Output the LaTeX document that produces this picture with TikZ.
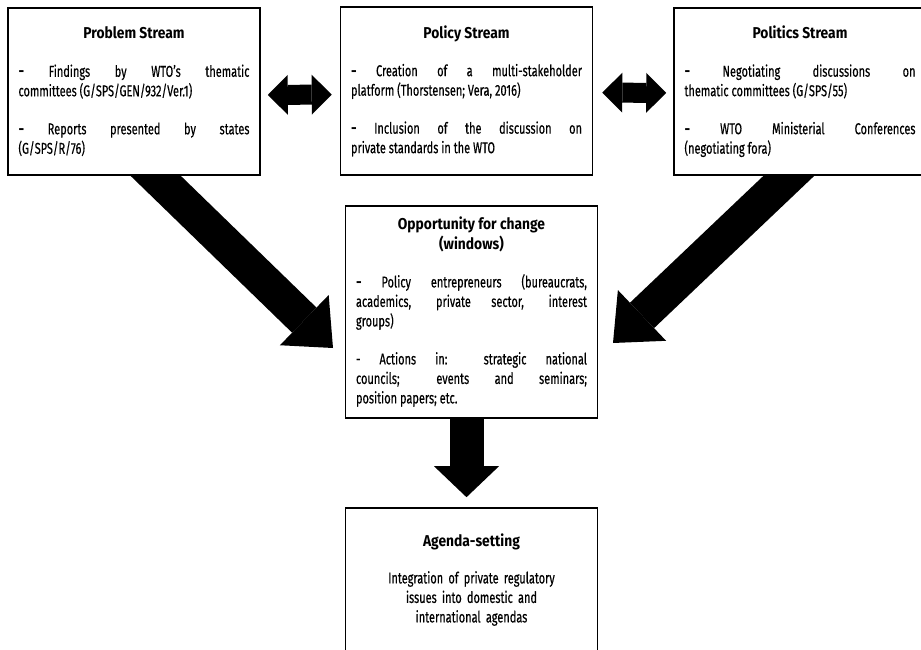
\documentclass[tikz,border=0pt]{standalone}
\usepackage{fontspec}
\setmainfont{Fira Sans}[UprightFeatures={FakeStretch=0.70, FakeBold=0.35}, BoldFeatures={FakeStretch=0.88}]
\usetikzlibrary{arrows.meta}
\usetikzlibrary{backgrounds}

\tikzset{
	streambox/.style={draw, line width=1.6pt, fill=white, text width=231pt, inner xsep=10.5pt, align=justify, font=\fontsize{15.7}{19.5}\selectfont},
	bigarrow/.style={line width=35pt, -{Triangle[length=40pt, width=70pt, line width=0pt]}},
	downarrow/.style={line width=34pt, -{Triangle[length=31pt, width=65pt, line width=0pt]}},
	bothways/.style={line width=20pt, {Triangle[length=20pt, width=40pt, line width=0pt]}-{Triangle[length=20pt, width=40pt, line width=0pt]}},
}
\newcommand{\boxtitle}[1]{{\centering\bfseries #1\par}\vspace{18.5pt}}
\newcommand{\itemgap}{\par\vspace{18.5pt}}

\begin{document}
\begin{tikzpicture}[x=1pt, y=-1pt]

	\useasboundingbox (0,0) rectangle (921,650);

	\node[streambox, minimum height=167pt] (problem) at (134,91.5) {\boxtitle{Problem Stream}
		\textbf{-} Findings by WTO’s thematic\linebreak committees (G/SPS/GEN/932/Ver.1)\itemgap
		\textbf{-} Reports presented by states\linebreak (G/SPS/R/76)};

	\node[streambox, minimum height=168pt] (policy) at (466.5,91) {\boxtitle{Policy Stream}
		\textbf{-} Creation of a multi-stakeholder\linebreak platform (Thorstensen; Vera, 2016)\itemgap
		\textbf{-} Inclusion of the discussion on\linebreak private standards in the WTO};

	\node[streambox, minimum height=167pt] (politics) at (800,91.5) {\boxtitle{Politics Stream}
		\textbf{-} Negotiating discussions on\linebreak thematic committees (G/SPS/55)\itemgap
		\textbf{-} WTO Ministerial Conferences\linebreak (negotiating fora)};

	\node[streambox, minimum height=212pt] (window) at (471.5,312) {\boxtitle{Opportunity for change\\(windows)}
		\textbf{-} Policy entrepreneurs (bureaucrats,\linebreak academics, private sector, interest\linebreak groups)\itemgap
		- Actions in: strategic national\linebreak councils; events and seminars;\linebreak position papers; etc.};

	\node[streambox, align=center, minimum height=158pt] (agenda) at (471.5,587) {\textbf{Agenda-setting}\\[17pt]
		Integration of private regulatory\\ issues into domestic and\\ international agendas\\[-8pt]\strut};

	\coordinate (lefttip) at (333,348);
	\coordinate (righttip) at (613,343);

	\begin{scope}[on background layer]
		\fill[white] (0,0) rectangle (921,650);
		\draw[bothways, shorten <=7pt, shorten >=8pt] ([yshift=-3.5pt]problem.east) -- ([yshift=-3.5pt]policy.west);
		\draw[bothways, shorten <=9pt, shorten >=7pt] ([yshift=-1.5pt]policy.east) -- ([yshift=-1.5pt]politics.west);
		\draw[bigarrow] ([yshift=21pt]problem.south) -- (lefttip);
		\draw[bigarrow] ([xshift=11pt, yshift=21pt]politics.south) -- (righttip);
		\draw[downarrow, shorten >=10pt] ([xshift=-5pt]window.south) -- ([xshift=-5pt]agenda.north);
	\end{scope}

\end{tikzpicture}
\end{document}
